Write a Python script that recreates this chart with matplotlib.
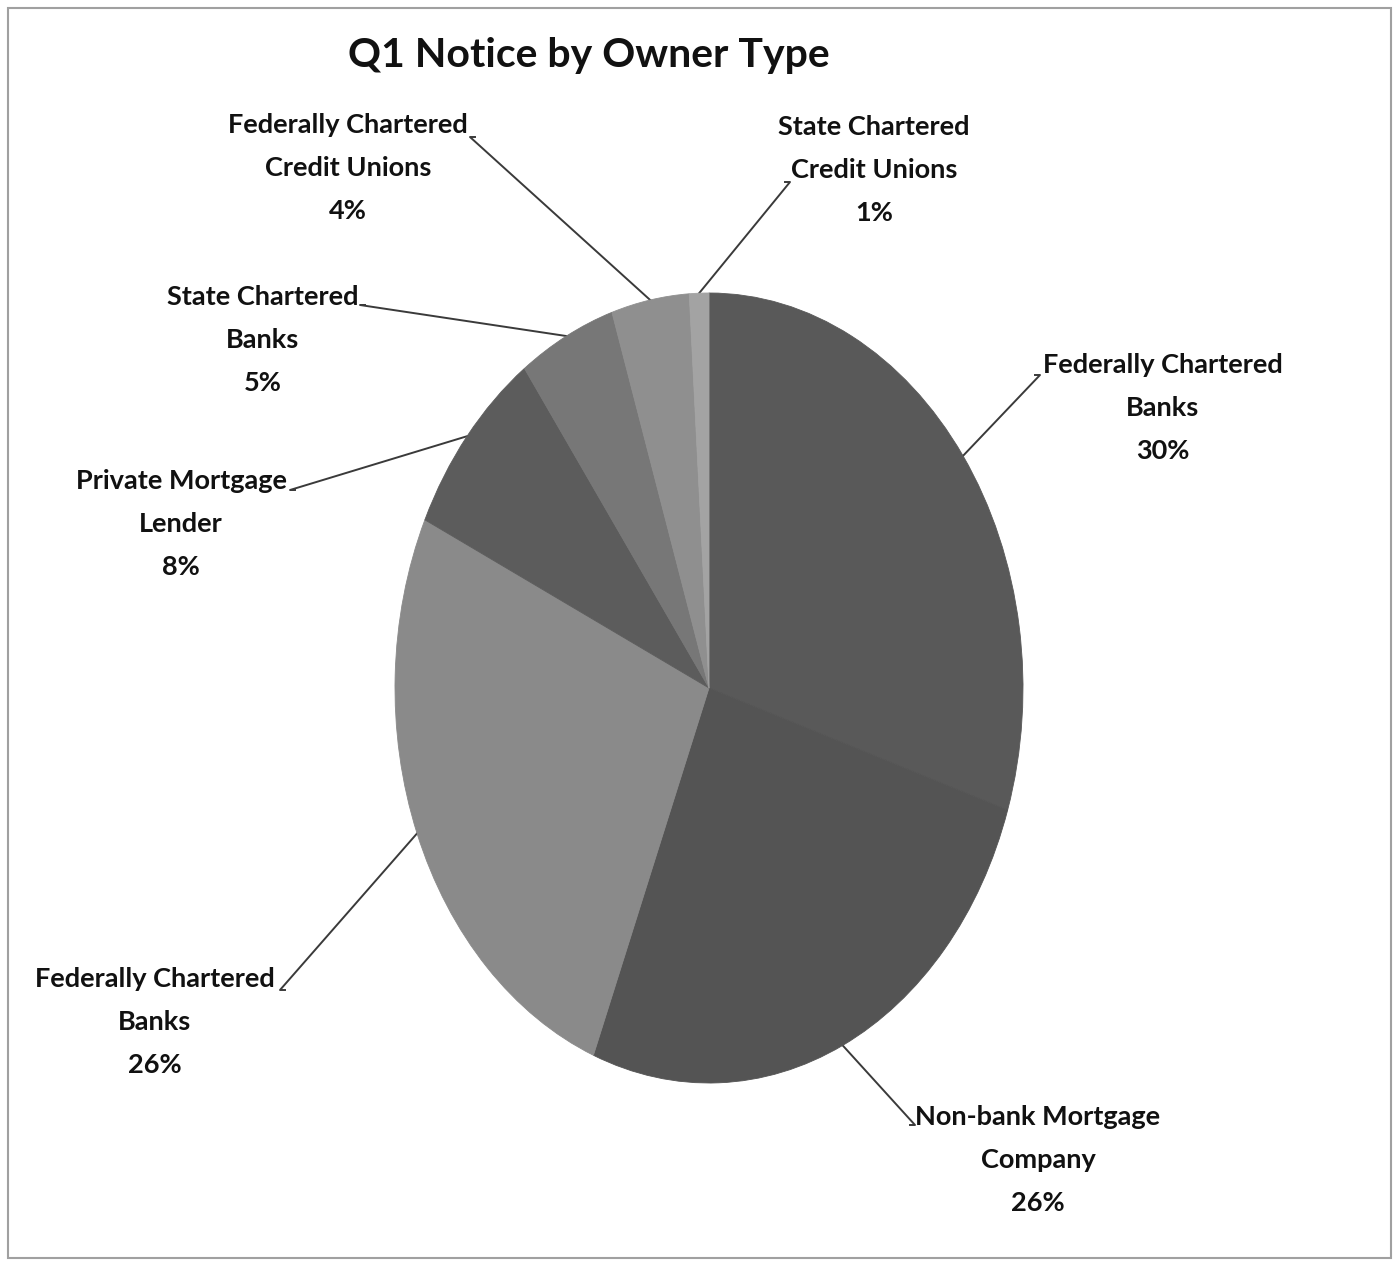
import numpy as np
import matplotlib
matplotlib.use("Agg")
import matplotlib.pyplot as plt
from matplotlib.patches import Rectangle

labels = ["Federally Chartered\nBanks", "Non-bank Mortgage\nCompany",
          "Federally Chartered\nBanks", "Private Mortgage\nLender",
          "State Chartered\nBanks", "Federally Chartered\nCredit Unions",
          "State Chartered\nCredit Unions"]
shares = [30, 26, 26, 8, 5, 4, 1]
colors = ["#595959", "#545454", "#8a8a8a", "#5c5c5c", "#777777", "#8f8f8f", "#a3a3a3"]

# label text centre (pixels) and leader end (pixels)
label_pos = [(1163, 408), (1038, 1160), (155, 1022), (181, 524),
             (263, 340), (348, 168), (874, 170)]
leader_end = [(1040, 375), (915, 1125), (280, 990), (290, 490),
              (360, 305), (470, 137), (790, 182)]

W, H = 1399, 1266
fig = plt.figure(figsize=(W / 100, H / 100), dpi=100)
plt.rcParams['font.family'] = ['Lato', 'DejaVu Sans']

# overlay axes in pixel coords
ov = fig.add_axes([0, 0, 1, 1])
ov.set_xlim(0, W)
ov.set_ylim(H, 0)
ov.axis('off')
ov.add_patch(Rectangle((8, 8), W - 16, H - 16, fill=False, ec="#a0a0a0", lw=1.5))

# pie axes (elliptical: box not square)
cx0, cx1, cy0, cy1 = 395, 1023, 293, 1083
pa = fig.add_axes([cx0 / W, 1 - cy1 / H, (cx1 - cx0) / W, (cy1 - cy0) / H])
wedges, _ = pa.pie(shares, colors=colors, startangle=90, counterclock=False,
                   wedgeprops=dict(linewidth=0))
for w in wedges:
    # hide the antialias seams between slices
    w.set_edgecolor(w.get_facecolor())
    w.set_linewidth(0.6)
pa.set_aspect('auto')
pa.set_xlim(-1, 1)
pa.set_ylim(-1, 1)
pa.axis('off')

for w, lab, (tx, ty), (ex, ey), s in zip(wedges, labels, label_pos, leader_end, shares):
    mid = np.deg2rad((w.theta1 + w.theta2) / 2)
    # edge point in pixel space
    px = (cx0 + cx1) / 2 + (cx1 - cx0) / 2 * np.cos(mid)
    py = (cy0 + cy1) / 2 - (cy1 - cy0) / 2 * np.sin(mid)
    side = 1 if ex > px else -1
    ov.plot([px, ex, ex - side * 5], [py, ey, ey], color="#3a3a3a", lw=1.4)
    ov.text(tx, ty, f"{lab}\n{s}%", ha="center", va="center", fontsize=19.5,
            fontweight="bold", linespacing=1.95, color="#111111")

ov.text(589, 55, "Q1 Notice by Owner Type", ha="center", va="center",
        fontsize=29.5, fontweight="bold", color="#111111")

fig.savefig("out.png", dpi=100)
